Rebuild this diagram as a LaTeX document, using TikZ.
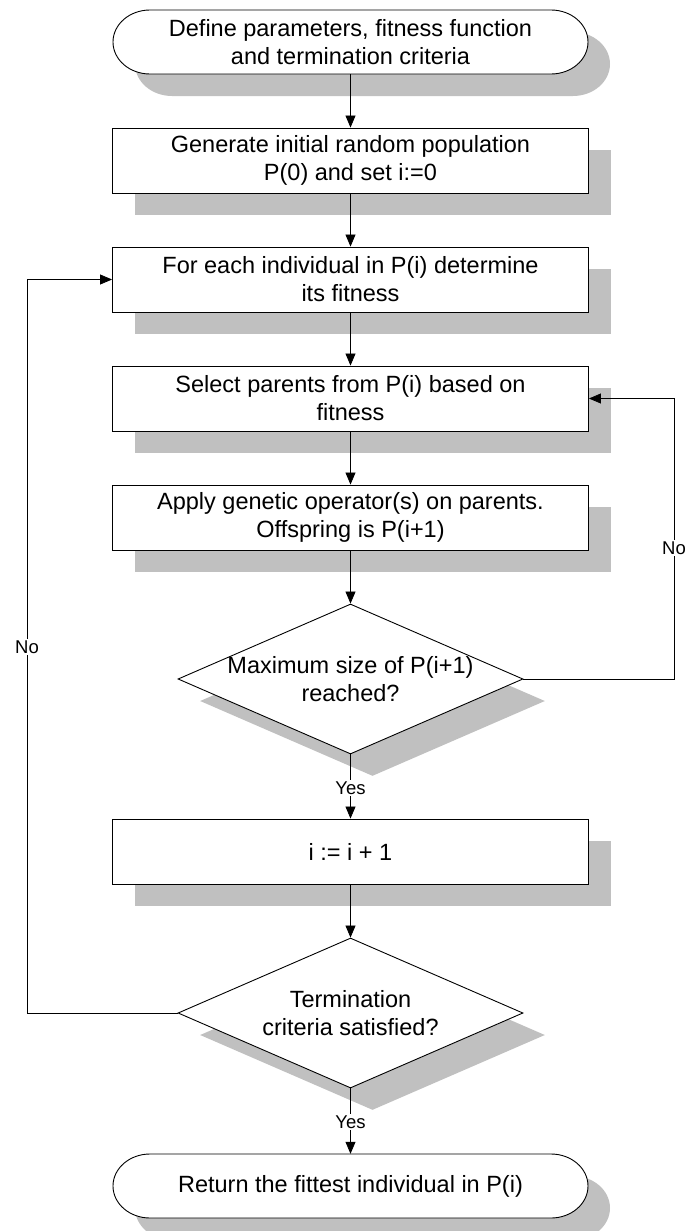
\documentclass[tikz,border=0pt]{standalone}
\usepackage{fontspec}
\setmainfont{Liberation Sans}
\usetikzlibrary{arrows.meta,shapes.geometric,shadows}
\definecolor{shgray}{RGB}{192,192,192}

% outline of a terminal (start/stop) shape centred at (#1,#2)
\newcommand\termpath[2]{({#1-200.5},{#2-32}) -- ({#1+200.5},{#2-32})
  arc[start angle=90,end angle=-90,x radius=37pt,y radius=32pt]
  -- ({#1-200.5},{#2+32})
  arc[start angle=270,end angle=90,x radius=37pt,y radius=32pt] -- cycle}

\begin{document}
\begin{tikzpicture}[x=1pt,y=-1pt,
  font=\fontsize{23.5}{28}\selectfont,
  boxshadow/.style={general shadow={shadow xshift=22pt,shadow yshift=-22pt,fill=shgray}},
  box/.style={rectangle,draw=black,line width=0.9pt,fill=white,
    minimum width=476pt,minimum height=65pt,inner sep=0pt,align=center,boxshadow},
  decision/.style={diamond,draw=black,line width=0.9pt,fill=white,
    minimum width=345pt,minimum height=150pt,inner sep=0pt,boxshadow},
  dtext/.style={align=center,inner sep=0pt},
  term/.style={rectangle,minimum width=475pt,minimum height=64pt,inner sep=0pt,align=center},
  termline/.style={draw=black,line width=0.9pt,fill=white},
  conn/.style={line width=0.8pt,-{Triangle[length=12pt,width=10pt]}},
  lbl/.style={font=\fontsize{18.5}{20}\selectfont,fill=white,inner sep=1.5pt},
]
\path[use as bounding box] (0,0) rectangle (687,1231);

% start terminal
\fill[shgray] \termpath{372.5}{64};
\path[termline] \termpath{350.5}{42};
\node[term] (start) at (350.5,42) {Define parameters, fitness function\\and termination criteria};

% process boxes
\node[box] (gen) at (350.5,160.5) {Generate initial random population\\P(0) and set i:=0};
\node[box] (fit) at (350.5,279.5) {For each individual in P(i) determine\\its fitness};
\node[box] (sel) at (350.5,398.5) {Select parents from P(i) based on\\fitness};
\node[box] (app) at (350.5,517.5) {Apply genetic operator(s) on parents.\\Offspring is P(i+1)};

% first decision
\node[decision] (dec1) at (350.5,679) {};
\node[dtext] (dec1t) at (350.5,679) {Maximum size of P(i+1)\\reached?};

\node[box] (inc) at (350.5,851.5) {i := i + 1};

% second decision
\node[decision] (dec2) at (350.5,1013) {};
\node[dtext] (dec2t) at (350.5,1013) {Termination\\criteria satisfied?};

% stop terminal
\fill[shgray] \termpath{372.5}{1208};
\path[termline] \termpath{350.5}{1186};
\node[term] (stop) at (350.5,1186) {Return the fittest individual in P(i)};

% main flow
\draw[conn] (start.south) -- (gen.north);
\draw[conn] (gen.south) -- (fit.north);
\draw[conn] (fit.south) -- (sel.north);
\draw[conn] (sel.south) -- (app.north);
\draw[conn] (app.south) -- (dec1.north);
\draw[conn] (dec1.south) -- (inc.north);
\node[lbl] (yes1) at (350.5,788) {Yes};
\draw[conn] (inc.south) -- (dec2.north);
\draw[conn] (dec2.south) -- (stop.north);
\node[lbl] (yes2) at (350.5,1122) {Yes};

% loop back to parent selection
\coordinate (rloop) at (674,679);
\draw[conn] (dec1.east) -- (rloop) -- (rloop |- sel.east) -- (sel.east);
\node[lbl] (no1) at (674,548) {No};

% loop back to fitness evaluation
\coordinate (lloop) at (27,1013);
\draw[conn] (dec2.west) -- (lloop) -- (lloop |- fit.west) -- (fit.west);
\node[lbl] (no2) at (27,647) {No};
\end{tikzpicture}
\end{document}
